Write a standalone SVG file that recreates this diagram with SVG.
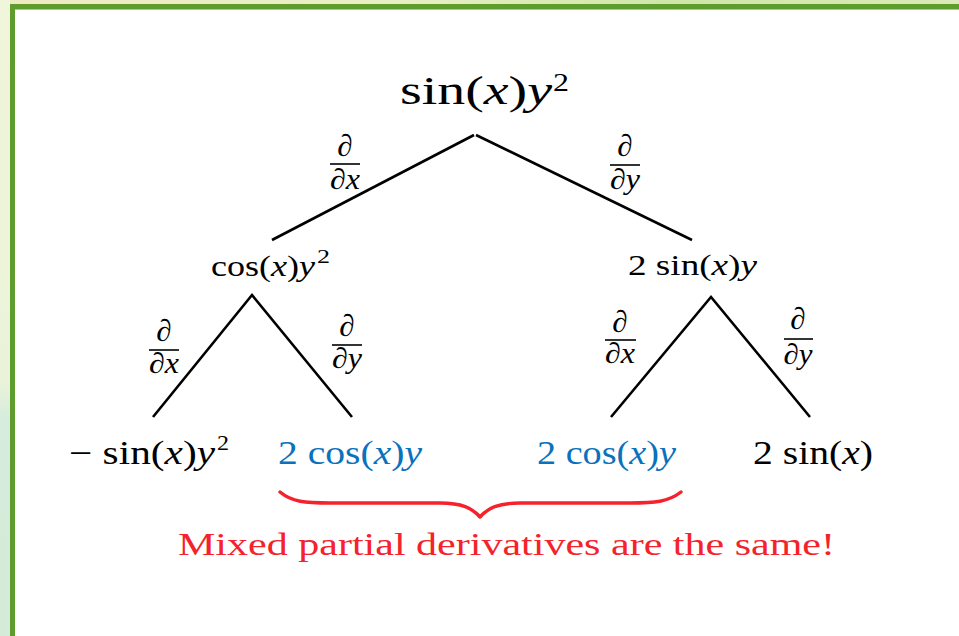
<svg xmlns="http://www.w3.org/2000/svg" width="959" height="636" viewBox="0 0 959 636">
  <defs>
    <linearGradient id="bgL" x1="0" y1="0" x2="0" y2="1">
      <stop offset="0" stop-color="#f1f5d9"/>
      <stop offset="0.6" stop-color="#eaf3da"/>
      <stop offset="0.66" stop-color="#d6ecdc"/>
      <stop offset="1" stop-color="#d4ebd9"/>
    </linearGradient>
    <linearGradient id="bgT" x1="0" y1="0" x2="1" y2="0">
      <stop offset="0" stop-color="#efe9c0"/>
      <stop offset="0.4" stop-color="#e9efc4"/>
      <stop offset="0.7" stop-color="#cfe6a8"/>
      <stop offset="1" stop-color="#dbeab8"/>
    </linearGradient>
  </defs>
  <style>
    .m { font-family: 'Liberation Serif', 'DejaVu Serif', serif; fill: #000; }
    .i { font-style: italic; }
    .blue { fill: #0a72bd; }
    .red { fill: #f5222b; }
    .edge { stroke: #000; stroke-width: 2.6; fill: none; stroke-linecap: butt; }
    .bar { stroke: #000; stroke-width: 1.6; }
    .num { font-size: 31px; text-anchor: middle; }
    .frac { font-size: 29px; text-anchor: middle; }
  </style>

  <!-- background / frame -->
  <rect x="0" y="0" width="959" height="636" fill="url(#bgL)"/>
  <rect x="10" y="0" width="949" height="5" fill="url(#bgT)"/>
  <rect x="15" y="9" width="944" height="627" fill="#ffffff"/>
  <rect x="10" y="4" width="949" height="5" fill="#5e9d2d"/>
  <rect x="10" y="4" width="5" height="632" fill="#5e9d2d"/>
  <rect x="15" y="9" width="944" height="1" fill="#a7cc86"/>

  <!-- connectors -->
  <g id="connectors">
    <line class="edge" x1="474" y1="135" x2="272" y2="240"/>
    <line class="edge" x1="476" y1="135" x2="692" y2="240"/>
    <polyline class="edge" points="153,417 252,295 352,417"/>
    <polyline class="edge" points="611,417 711,297 810,417"/>
    <path d="M280,492 C292,502 305,503 330,503 L440,503 C462,503 472,508 480,517 C488,508 498,503 520,503 L630,503 C655,503 668,502 681,492" fill="none" stroke="#f5222b" stroke-width="3.4" stroke-linecap="round" stroke-linejoin="round"/>
  </g>

  <!-- edge labels -->
  <g id="label-root-dx">
    <text class="m num" x="345" y="156">∂</text>
    <line class="bar" x1="330" y1="164" x2="360" y2="164"/>
    <text class="m frac" x="345" y="189" textLength="30" lengthAdjust="spacingAndGlyphs">∂<tspan class="i">x</tspan></text>
  </g>
  <g id="label-root-dy">
    <text class="m num" x="625" y="156">∂</text>
    <line class="bar" x1="610" y1="165" x2="640" y2="165"/>
    <text class="m frac" x="625" y="189" textLength="30" lengthAdjust="spacingAndGlyphs">∂<tspan class="i">y</tspan></text>
  </g>
  <g id="label-left-dx">
    <text class="m num" x="164" y="341">∂</text>
    <line class="bar" x1="149" y1="350" x2="179" y2="350"/>
    <text class="m frac" x="164" y="373" textLength="30" lengthAdjust="spacingAndGlyphs">∂<tspan class="i">x</tspan></text>
  </g>
  <g id="label-left-dy">
    <text class="m num" x="347" y="336">∂</text>
    <line class="bar" x1="332" y1="345" x2="362" y2="345"/>
    <text class="m frac" x="347" y="368" textLength="30" lengthAdjust="spacingAndGlyphs">∂<tspan class="i">y</tspan></text>
  </g>
  <g id="label-right-dx">
    <text class="m num" x="620" y="332">∂</text>
    <line class="bar" x1="605" y1="340" x2="636" y2="340"/>
    <text class="m frac" x="620" y="363" textLength="30" lengthAdjust="spacingAndGlyphs">∂<tspan class="i">x</tspan></text>
  </g>
  <g id="label-right-dy">
    <text class="m num" x="798" y="329">∂</text>
    <line class="bar" x1="784" y1="339" x2="813" y2="339"/>
    <text class="m frac" x="798" y="364" textLength="29" lengthAdjust="spacingAndGlyphs">∂<tspan class="i">y</tspan></text>
  </g>

  <!-- nodes -->
  <g id="node-root">
    <text class="m" x="400" y="104" font-size="40" textLength="152" lengthAdjust="spacingAndGlyphs">sin(<tspan class="i">x</tspan>)<tspan class="i">y</tspan></text>
    <text class="m" x="553" y="91" font-size="26" textLength="16" lengthAdjust="spacingAndGlyphs">2</text>
  </g>
  <g id="node-cos">
    <text class="m" x="211" y="276" font-size="29" textLength="104" lengthAdjust="spacingAndGlyphs">cos(<tspan class="i">x</tspan>)<tspan class="i">y</tspan></text>
    <text class="m" x="317" y="263" font-size="19" textLength="13" lengthAdjust="spacingAndGlyphs">2</text>
  </g>
  <g id="node-2sin-y">
    <text class="m" x="628" y="275" font-size="29" textLength="129" lengthAdjust="spacingAndGlyphs">2 sin(<tspan class="i">x</tspan>)<tspan class="i">y</tspan></text>
  </g>
  <g id="node-neg-sin">
    <text class="m" x="69" y="464" font-size="33" textLength="146" lengthAdjust="spacingAndGlyphs">− sin(<tspan class="i">x</tspan>)<tspan class="i">y</tspan></text>
    <text class="m" x="217" y="450" font-size="21" textLength="12" lengthAdjust="spacingAndGlyphs">2</text>
  </g>
  <g id="node-2cos-left">
    <text class="m blue" x="278" y="464" font-size="33" textLength="144" lengthAdjust="spacingAndGlyphs">2 cos(<tspan class="i">x</tspan>)<tspan class="i">y</tspan></text>
  </g>
  <g id="node-2cos-right">
    <text class="m blue" x="537" y="464" font-size="33" textLength="139" lengthAdjust="spacingAndGlyphs">2 cos(<tspan class="i">x</tspan>)<tspan class="i">y</tspan></text>
  </g>
  <g id="node-2sin">
    <text class="m" x="753" y="464" font-size="33" textLength="120" lengthAdjust="spacingAndGlyphs">2 sin(<tspan class="i">x</tspan>)</text>
  </g>

  <g id="note">
    <text class="m red" x="178" y="555" font-size="32" textLength="657" lengthAdjust="spacingAndGlyphs">Mixed partial derivatives are the same!</text>
  </g>
</svg>
